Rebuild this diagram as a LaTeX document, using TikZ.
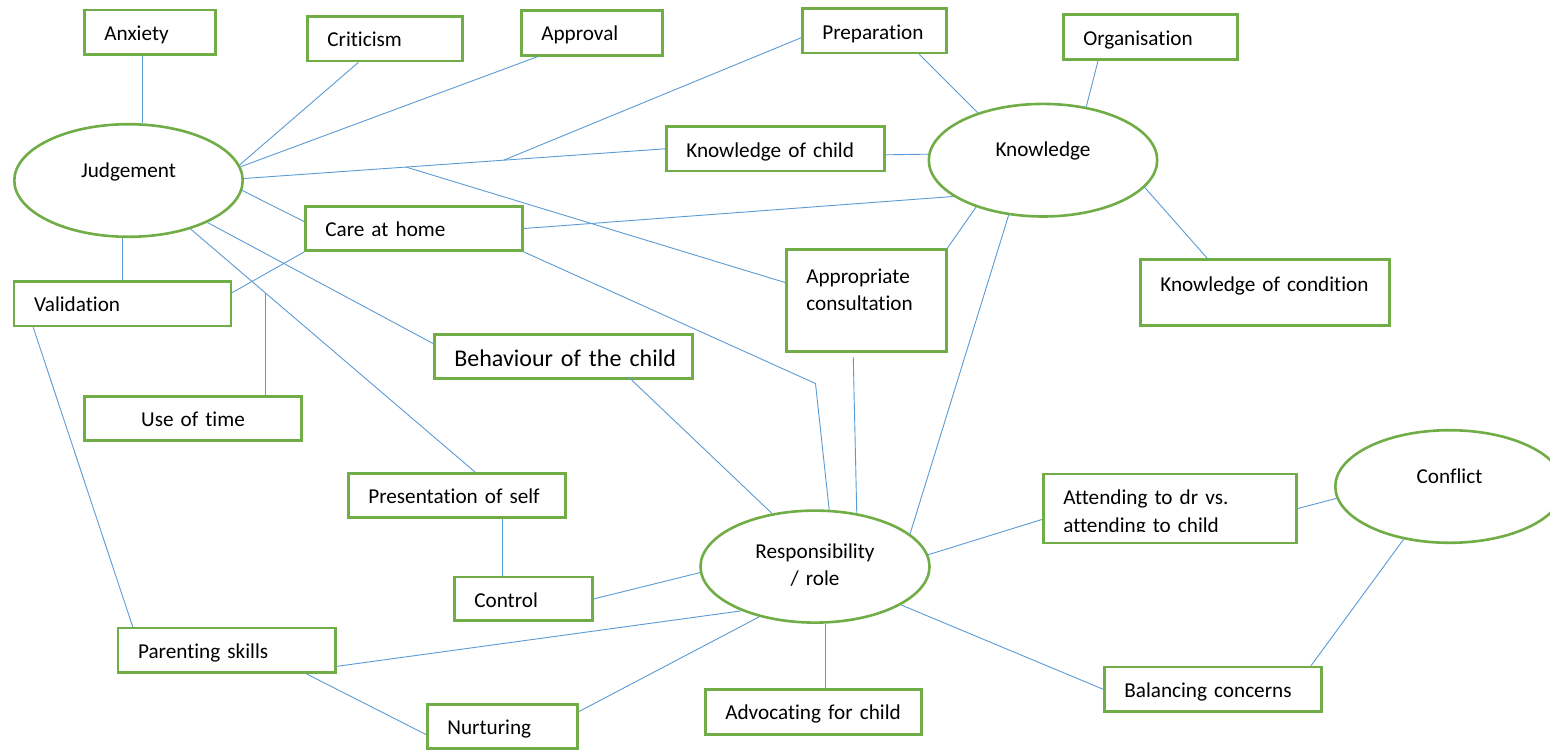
\documentclass[tikz,border=0pt]{standalone}
\usepackage{fontspec}
\setmainfont{Carlito}[Ligatures={NoCommon}]
\usetikzlibrary{shapes.geometric}
\definecolor{boxgreen}{HTML}{70AD47}
\definecolor{linkblue}{HTML}{5B9BD5}
\begin{document}
\begin{tikzpicture}[x=1pt,y=-1pt,
  every node/.style={font=\fontsize{21.2}{27.5}\selectfont},
  box/.style={draw=boxgreen, line width=2.6pt, rectangle, anchor=north west,
    inner xsep=20pt, inner ysep=0pt, align=left, text height=30.5pt},
  ell/.style={draw=boxgreen, line width=2.6pt, ellipse, minimum width=228.4pt,
    minimum height=112.6pt, align=center},
  ellone/.style={ell, text height=10pt, text depth=17pt},
  link/.style={draw=linkblue, line width=0.9pt}]
\fill[white] (0,0) rectangle (1550,750);
\useasboundingbox (0,0) rectangle (1550,750);

% boxes
\node[box, minimum width=131.4pt, minimum height=44.9pt, text width=91.4pt, text depth=14.4pt] (anx) at (83,8.5) {Anxiety};
\node[box, minimum width=155.4pt, minimum height=44.7pt, text width=115.4pt, text depth=14.2pt] (crit) at (306,15) {Criticism};
\node[box, minimum width=141.4pt, minimum height=45.1pt, text width=101.4pt, text depth=14.6pt] (appr) at (520,9) {Approval};
\node[box, minimum width=143.9pt, minimum height=44.4pt, text width=103.9pt, text depth=13.9pt] (prep) at (801,7.3) {Preparation};
\node[box, minimum width=174.4pt, minimum height=45.1pt, text width=134.4pt, text depth=14.6pt] (org) at (1062,13.3) {Organisation};
\node[box, minimum width=218.4pt, minimum height=44.4pt, text width=178.4pt, text depth=13.9pt] (kc) at (665,125.3) {Knowledge of child};
\node[box, minimum width=217.4pt, minimum height=44.4pt, text width=177.4pt, text depth=13.9pt] (ch) at (304,205) {Care at home};
\node[box, minimum width=216.9pt, minimum height=44.7pt, text width=176.9pt, text depth=14.2pt] (val) at (12.7,280) {Validation};
\node[box, minimum width=217.4pt, minimum height=44.4pt, text width=177.4pt, text depth=13.9pt, align=center] (ut) at (83,395) {Use of time};
\node[box, minimum width=258.4pt, minimum height=44.4pt, text width=218.4pt, text height=32.4pt, text depth=12pt, font=\fontsize{24}{29}\selectfont] (bh) at (433,333) {\mbox{Behaviour of the child}};
\node[box, minimum width=159.9pt, minimum height=102.4pt, text width=119.9pt, text height=34pt, text depth=68.4pt] (ac) at (785,248) {Appropriate\\consultation};
\node[box, minimum width=249.4pt, minimum height=66.1pt, text width=209.4pt, text height=31.7pt, text depth=34.4pt] (kcond) at (1139,258) {\mbox{Knowledge of condition}};
\node[box, minimum width=217.4pt, minimum height=44.4pt, text width=177.4pt, text depth=13.9pt] (ps) at (347,472) {Presentation of self};
\node[box, minimum width=138.4pt, minimum height=43.7pt, text width=98.4pt, text depth=13.2pt] (ctrl) at (453,575.7) {Control};
\node[box, minimum width=253.4pt, minimum height=68.9pt, text width=213.4pt, text depth=38.4pt] (att) at (1042,472.7) {Attending to dr vs.\\attending to child};
\node[box, minimum width=216.9pt, minimum height=44.4pt, text width=176.9pt, text depth=13.9pt] (bal) at (1103,665.7) {Balancing concerns};
\node[box, minimum width=216.4pt, minimum height=45.4pt, text width=176.4pt, text depth=14.9pt] (adv) at (704,688) {\mbox{Advocating for child}};
\node[box, minimum width=150.4pt, minimum height=44.4pt, text width=110.4pt, text depth=13.9pt] (nurt) at (426,703) {Nurturing};
\node[box, minimum width=217.4pt, minimum height=44.7pt, text width=177.4pt, text depth=14.2pt] (psk) at (116.7,626.7) {Parenting skills};

% the second line of this box is cut off at the bottom
\fill[white] (1044.7,532) rectangle (1295.3,541.5);

% ellipses
\node[ellone] (J) at (128.5,180.5) {Judgement};
\node[ellone] (K) at (1043,160.2) {Knowledge};
\node[ell, minimum width=229pt, minimum height=112pt, text width=150pt, text height=15pt, text depth=32pt] (R) at (815,566.6) {Responsibility\\/ role};
\node[ellone] (C) at (1449.5,486.5) {Conflict};

% connectors
\draw[link] ([xshift=-7.5pt]anx.south) -- ([xshift=-7.5pt]anx.south |- J.north);
\draw[link] ([xshift=-26.5pt]crit.south) -- (J.8);
\draw[link] ([xshift=-54.5pt]appr.south) -- (J.7);
\draw[link] (J.1) -- (kc.west) coordinate[pos=0.385] (jb1) coordinate[pos=0.617] (jb2);
\draw[link] (jb2) -- ([yshift=-7pt]prep.west);
\draw[link] (jb1) -- ([yshift=18pt]ac.west);
\draw[link] ([xshift=45pt]prep.south) -- (K.144);
\draw[link] ([xshift=-52.5pt]org.south) -- (K.51);
\draw[link] ([yshift=-6pt]kc.east) -- (K.177);
\draw[link] (ch.east) -- (K.202);
\draw[link] (K.215) -- (ac.north east);
\draw[link] (K.238) -- (R.19);
\draw[link] (K.-15) -- ([xshift=-58pt]kcond.north);
\draw[link] (J.-5.5) -- ([yshift=7pt]ch.west);
\draw[link] (J.-28) -- ([yshift=13pt]bh.west);
\draw[link] (J.-38) -- ([xshift=18pt]ps.north) coordinate[pos=0.263] (ut1);
\draw[link] (ut1) -- (ut1 |- ut.north);
\draw[link] (val.north) -- (val.north |- J.south);
\draw[link] ([yshift=11pt]val.east) -- (ch.south west);
\draw[link] ([xshift=20.5pt]val.south west) -- ([xshift=16pt]psk.north west);
\coordinate (bend) at (815.5,383.5);
\draw[link] (ch.south east) -- (bend) -- (R.76);
\draw[link] ([xshift=-13pt,yshift=-4pt]ac.south) -- (R.52);
\draw[link] ([xshift=65pt,yshift=3pt]bh.south) -- (R.129);
\draw[link] ([xshift=45pt]ps.south) -- ([xshift=45pt]ps.south |- ctrl.north);
\draw[link] (ctrl.east) -- (R.183);
\draw[link] ([yshift=-16pt]psk.east) -- (R.211);
\draw[link] ([xshift=-30pt]psk.south east) -- ([yshift=-8pt]nurt.west);
\draw[link] ([yshift=15pt]nurt.east) -- (R.222);
\draw[link] ([xshift=12pt]adv.north) -- ([xshift=12pt]adv.north |- R.south);
\draw[link] (R.6.6) -- ([yshift=-11pt]att.west);
\draw[link] (att.east) -- (C.186);
\draw[link] (R.-24) -- (bal.west);
\draw[link] (C.229) -- ([xshift=-11.5pt]bal.north east);
\end{tikzpicture}
\end{document}
